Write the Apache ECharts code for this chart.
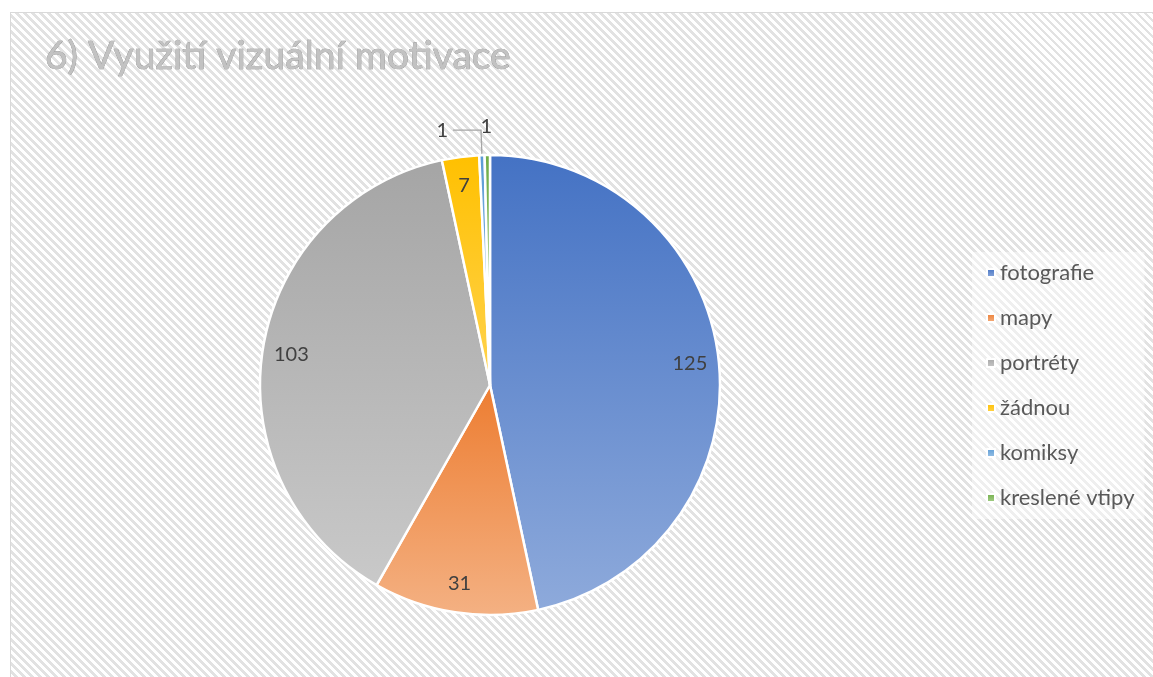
<!DOCTYPE html>
<html>
<head>
<meta charset="utf-8">
<script src="https://cdn.jsdelivr.net/npm/echarts@6/dist/echarts.min.js"></script>
<style>
  html, body { margin: 0; padding: 0; background: #ffffff; }
  #frame {
    position: absolute; left: 10px; top: 12px; width: 1143px; height: 665px;
    border-top: 1px solid #d9d9d9; border-left: 1px solid #d9d9d9;
    background: repeating-linear-gradient(45deg, #ffffff 0px, #ffffff 2.9px, #e2e2e2 2.9px, #e2e2e2 5.66px);
  }
  #chart { position: absolute; left: 0; top: 0; width: 1153px; height: 677px; }
</style>
</head>
<body>
<div id="frame"></div>
<div id="chart"></div>
<script>
const titleText = '6) Využití vizuální motivace';
const categories = ['fotografie', 'mapy', 'portréty', 'žádnou', 'komiksy', 'kreslené vtipy'];
const values = [125, 31, 103, 7, 1, 1];
const topColors = ['#4472c4', '#ed7d31', '#a5a5a5', '#ffc000', '#5b9bd5', '#70ad47'];
const bottomColors = ['#8eaadb', '#f4b183', '#c9c9c9', '#ffd34f', '#9dc3e6', '#a9d18e'];
const insideLabelShown = [true, true, true, true, false, false];

const FONT = 'Lato';
const chart = echarts.init(document.getElementById('chart'), null, { renderer: 'canvas' });

function grad(i) {
  return new echarts.graphic.LinearGradient(0, 0, 0, 1, [
    { offset: 0, color: topColors[i] },
    { offset: 1, color: bottomColors[i] }
  ]);
}

const mainData = categories.map((name, i) => {
  const item = { name: name, value: values[i], itemStyle: { color: grad(i) } };
  if (i === 4) {
    item.label = { show: true, position: 'outside' };
    item.labelLine = { show: true, length: 25, length2: 28, lineStyle: { color: '#a6a6a6', width: 1.3 } };
  } else if (i === 5) {
    item.label = { show: true, position: 'outside' };
    item.labelLine = { show: false, length: 14, length2: 0 };
  } else {
    item.label = { show: false };
    item.labelLine = { show: false };
  }
  return item;
});

const labelData = categories.map((name, i) => ({
  name: name, value: values[i],
  label: { show: insideLabelShown[i] }
}));

chart.setOption({
  animation: false,
  title: {
    text: titleText,
    left: 40, top: 32,
    textStyle: {
      fontFamily: FONT, fontSize: 39, fontWeight: 'normal',
      color: '#c2c2c2', textBorderColor: '#858585', textBorderWidth: 0.6
    }
  },
  legend: {
    orient: 'vertical',
    left: 972, top: 252,
    padding: [10, 10, 10, 14],
    backgroundColor: 'rgba(255,255,255,0.45)',
    itemWidth: 8, itemHeight: 8, itemGap: 23,
    icon: 'rect',
    data: categories,
    textStyle: { fontFamily: FONT, fontSize: 22, color: '#595959' }
  },
  series: [
    {
      type: 'pie',
      name: 'main',
      center: [490, 385],
      radius: [0, 230],
      startAngle: 90,
      clockwise: true,
      avoidLabelOverlap: false,
      silent: true,
      itemStyle: { borderColor: '#ffffff', borderWidth: 2.5 },
      label: { fontFamily: FONT, fontSize: 20, color: '#404040', formatter: '{c}' },
      labelLayout: function (p) {
        if (p.dataIndex === 5) return { dx: 10, dy: -14 };
        return {};
      },
      data: mainData
    },
    {
      type: 'pie',
      name: 'labels',
      center: [490, 385],
      radius: [166, 230],
      startAngle: 90,
      clockwise: true,
      silent: true,
      legendHoverLink: false,
      itemStyle: { color: 'rgba(0,0,0,0)', borderWidth: 0 },
      label: { position: 'inside', fontFamily: FONT, fontSize: 20, color: '#404040', formatter: '{c}' },
      labelLine: { show: false },
      emphasis: { disabled: true },
      data: labelData
    }
  ]
});
</script>
</body>
</html>
